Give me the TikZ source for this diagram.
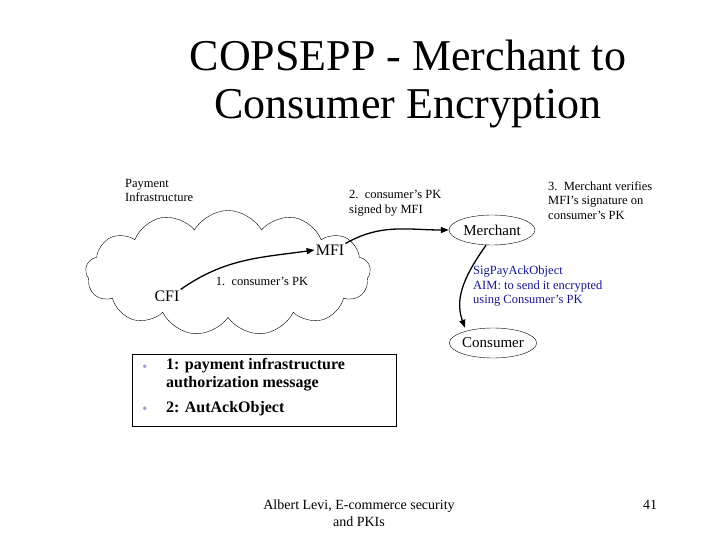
\documentclass[tikz,border=0pt]{standalone}
\usepackage{fontspec}
\setmainfont{Liberation Serif}
\usetikzlibrary{shapes.symbols,shapes.geometric,arrows.meta}
\definecolor{navy}{RGB}{20,20,150}
\definecolor{bul}{RGB}{150,160,200}
\begin{document}
\begin{tikzpicture}[x=1pt,y=-1pt,
  lbl/.style={font=\fontsize{12.5}{14.5}\selectfont,align=left,inner sep=0},
  ent/.style={ellipse,draw,minimum width=86,minimum height=30,inner sep=0,font=\fontsize{15}{16}\selectfont},
  arr/.style={-{Triangle[length=8pt,width=6pt]},line width=1.3pt}]
\useasboundingbox (0,0) rectangle (720,540);
\node[font=\fontsize{44}{48}\selectfont,align=center] (title) at (408,84) {COPSEPP - Merchant to\\Consumer Encryption};
\node[cloud,draw,cloud puffs=13,cloud puff arc=120,aspect=2.3,minimum width=285,minimum height=125,inner sep=0] (cloud) at (228,273) {};
\node[lbl,anchor=north west] (pi) at (125,179) {Payment\\Infrastructure};
\node[font=\fontsize{16}{17}\selectfont,inner sep=1] (mfi) at (330,250) {MFI};
\node[font=\fontsize{16}{17}\selectfont,inner sep=1] (cfi) at (167,296) {CFI};
\node[lbl] (l1) at (262,281) {1.\ \ consumer's PK};
\node[ent] (mer) at (492,230) {Merchant};
\node[ent] (con) at (493,343) {Consumer};
\node[lbl,anchor=north west] (l2) at (349,190) {2.\ \ consumer's PK\\signed by MFI};
\node[lbl,anchor=north west] (l3) at (548,181) {3.\ \ Merchant verifies\\MFI's signature on\\consumer's PK};
\node[lbl,anchor=north west,text=navy] (aim) at (473,266) {SigPayAckObject\\AIM: to send it encrypted\\using Consumer's PK};
\draw[arr] (cfi.north east) to[out=35,in=188] (mfi.west);
\draw[arr] (mfi.north east) to[out=30,in=180] (mer.west);
\draw[arr] ([xshift=-6]mer.south) to[out=235,in=110] ([xshift=-28]con.north);
\node[draw,minimum width=264,minimum height=72,anchor=north west,inner sep=0] (box) at (132,354) {};
\node[font=\fontsize{16}{18}\selectfont\bfseries,align=left,anchor=north west,inner sep=0] (t1) at (166,358) {1: payment infrastructure\\authorization message};
\node[font=\fontsize{16}{18}\selectfont\bfseries,anchor=north west,inner sep=0] (t2) at (166,401) {2: AutAckObject};
\node[text=bul,font=\Large] (b1) at (145,368) {•};
\node[text=bul,font=\Large] (b2) at (145,410) {•};
\node[font=\fontsize{14}{17}\selectfont,align=center] (foot) at (359,513) {Albert Levi, E-commerce security\\and PKIs};
\node[font=\fontsize{14}{15}\selectfont] (pg) at (650,505) {41};
\end{tikzpicture}
\end{document}
